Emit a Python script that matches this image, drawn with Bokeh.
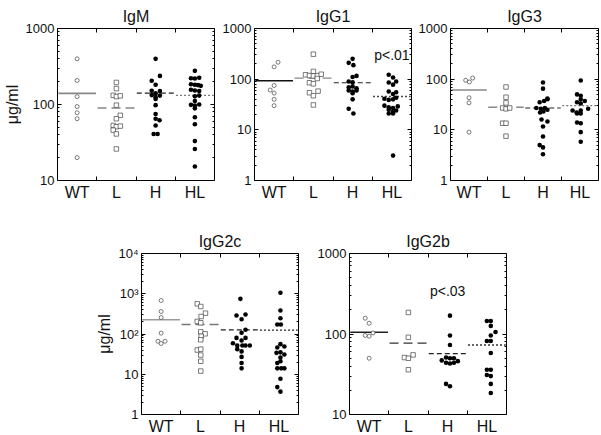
from bokeh.plotting import figure
from bokeh.layouts import row, column, Spacer
from bokeh.models import FixedTicker, LogAxis, LinearAxis, Range1d, CustomJSTickFormatter
from bokeh.core.properties import value
from bokeh.embed import file_html
from bokeh.resources import INLINE

FONT = "Liberation Sans"
groups = ["WT", "L", "H", "HL"]

# ---------------- data (µg/ml) ----------------
igm_wt = [399, 207, 127, 94, 78, 65, 20]
igm_wt_dx = [0, 0, 0, 0, 0, 0, 0]
igm_l = [195, 162, 132, 127, 130, 98, 72, 65, 53, 51, 52, 46, 41, 26]
igm_l_dx = [0, 0, -0.08, 0, 0.1, 0, 0.1, 0, -0.08, 0, 0.1, -0.08, 0, 0]
igm_h = [399, 238, 205, 182, 152, 150, 140, 133, 131, 125, 118, 98, 75, 65, 62, 53, 41, 41]
igm_h_dx = [0, 0.11, -0.1, 0, -0.1, 0.11, 0, -0.1, 0.11, 0, 0, 0, 0, 0, 0.1, 0, -0.05, 0.05]
igm_hl = [277, 222, 220, 225, 185, 182, 180, 176, 156, 153, 150, 128, 131, 111, 99, 97, 100, 89, 68, 55, 33, 26, 15.3]
igm_hl_dx = [0, -0.1, 0, 0.11, -0.1, 0, 0.08, 0.15, -0.1, 0, 0.11, 0, 0.11, 0, -0.1, 0, 0.11, 0, 0, 0, 0, 0, 0]
igm_means = [140, 90, 141, 132]

igg1_wt = [216, 175, 75, 61, 53, 40, 30]
igg1_wt_dx = [0.1, 0, 0, -0.1, 0, 0, 0]
igg1_l = [311, 142, 122, 118, 116, 117, 125, 103, 85, 81, 58, 54, 47, 31]
igg1_l_dx = [0, 0, -0.2, -0.1, 0, 0.1, 0.2, 0.1, -0.1, 0, 0.12, -0.1, 0, 0]
igg1_h = [252, 210, 189, 116, 110, 90, 87, 69, 72, 66, 60, 57, 60, 53, 40, 26, 21]
igg1_h_dx = [0, -0.1, 0.02, 0.1, 0, -0.1, 0, -0.1, 0, 0.1, -0.1, 0, 0.1, 0, 0, -0.1, 0.02]
igg1_hl = [122, 108, 86, 90, 78, 57, 55, 51, 41, 39, 40, 43, 30, 28, 27, 29, 25, 23, 24, 21, 21, 3.1]
igg1_hl_dx = [-0.08, 0.03, -0.08, 0.11, 0.03, -0.08, 0.11, 0.03, -0.19, -0.08, 0.03, 0.11,
              -0.19, -0.08, 0.03, 0.15, -0.08, 0.03, 0.11, -0.08, 0.03, 0.03]
igg1_means = [93, 105, 85, 45.5]

igg3_wt = [95, 88, 105, 43, 34, 9.0]
igg3_wt_dx = [-0.09, 0.01, 0.1, 0, 0, 0]
igg3_l = [70, 44, 34, 27, 26, 27, 13.5, 13.5, 7.5]
igg3_l_dx = [0, 0, 0, -0.09, 0, 0.1, -0.09, 0, 0]
igg3_h = [86, 65, 41.5, 35, 37, 40, 27, 26, 27, 25, 22, 23, 14.6, 16, 11.6, 7.4, 5, 4.5, 3.3]
igg3_h_dx = [0, 0, 0.12, -0.09, 0.03, 0.12, -0.18, -0.06, 0.05, 0.12, -0.08, 0.01, 0.12, -0.04, 0, 0, -0.09, 0, 0]
igg3_hl = [94, 50, 47, 40, 35, 33, 37, 24, 22, 24, 26, 21, 21, 14, 13.5, 9, 5.8]
igg3_hl_dx = [0.02, -0.08, 0.02, 0.02, -0.08, 0.02, 0.13, -0.2, -0.09, 0.02, 0.22, -0.08, 0.02, -0.08, 0.02, 0.02, 0.02]
igg3_means = [61, 28, 27, 30]

igg2c_wt = [680, 362, 257, 105, 66, 58, 66]
igg2c_wt_dx = [0, 0, 0, 0, -0.08, 0, 0.1]
igg2c_l = [562, 482, 329, 272, 205, 190, 113, 101, 88, 72, 40, 42, 30, 21, 12]
igg2c_l_dx = [-0.08, 0.01, 0.13, 0.02, -0.08, 0.01, 0.01, 0.12, 0.02, 0.01, -0.08, 0.01, 0.01, 0.01, 0.01]
igg2c_h = [748, 305, 288, 233, 127, 107, 80, 80, 69, 59, 52, 52, 52, 52, 42, 37, 27, 19, 14]
igg2c_h_dx = [0.02, 0.15, -0.08, 0.05, 0.15, 0.05, -0.08, 0.15, 0.05, -0.17, -0.06, 0.07, 0.15, 0.26,
              -0.06, 0.05, 0.05, 0.05, 0.05]
igg2c_hl = [1055, 384, 247, 172, 172, 56, 49, 46, 34, 35, 31, 26, 19, 21, 14, 14, 14, 7.7, 4.8, 3.7]
igg2c_hl_dx = [0.04, 0.04, 0.04, -0.04, 0.05, 0.04, 0.14, -0.04, -0.06, 0.04, 0.14, 0.04, -0.04, 0.04,
               -0.04, 0.06, 0.14, 0.04, -0.04, 0.04]
igg2c_means = [225, 172, 127, 125]

igg2b_wt = [157, 136, 96, 94, 103, 50]
igg2b_wt_dx = [-0.1, 0, -0.1, 0, 0.1, 0]
igg2b_l = [185, 91, 51, 50, 55, 36]
igg2b_l_dx = [0, 0, -0.1, 0, 0.12, 0]
igg2b_h = [169, 96, 73, 51, 50, 50, 47, 44, 43, 44, 46, 24, 22.4]
igg2b_h_dx = [0.06, 0.06, 0.06, -0.04, 0.06, 0.16, -0.15, -0.04, 0.06, 0.16, 0.26, -0.04, 0.06]
igg2b_hl = [145, 145, 126, 106, 96, 82, 82, 58, 36, 36, 31, 30, 24, 18.5]
igg2b_hl_dx = [0, 0.1, 0.1, 0.22, 0.1, 0, 0.1, 0.1, 0, 0.1, 0, 0.1, 0.1, 0.1]
igg2b_means = [105, 77, 57, 73]

# y-axis tick labels
ticks_10_1000 = {10: "10", 100: "100", 1000: "1000"}
ticks_1_1000 = {1: "1", 10: "10", 100: "100", 1000: "1000"}
ticks_1_1e4 = {1: "1", 10: "10", 100: "10²", 1000: "10³", 10000: "10⁴"}

# p-value notes: (text, group, y)
igg1_note = ("p<.01", "HL", 300)
igg2b_note = ("p<.03", "H", 340)

# ---------------- styles ----------------
mean_styles = {
    "WT": dict(line_dash="solid", line_width=1.6),
    "L": dict(line_dash="9 5", line_width=1.4),
    "H": dict(line_dash="5 3", line_width=1.2),
    "HL": dict(line_dash="2 2", line_width=1.3),
}


def make_panel(name, series, means, ylabels, fw, fh, bl, br, bt, bb,
               ylabel=None, line_colors=("#888", "#888", "#222", "#777"), note=None):
    yt = sorted(ylabels.keys())
    minors = [m * k for m in yt[:-1] for k in range(2, 10)]
    p = figure(frame_width=fw, frame_height=fh, x_range=Range1d(0.5, 4.5),
               y_range=Range1d(yt[0], yt[-1]), y_axis_type="log",
               output_backend="svg", toolbar_location=None,
               min_border_left=bl, min_border_right=br, min_border_top=bt, min_border_bottom=bb,
               title=name, background_fill_color="white", border_fill_color="white")
    p.grid.visible = False
    p.outline_line_color = "black"
    p.outline_line_width = 1
    p.outline_line_alpha = 1
    p.title.align = "center"
    p.title.text_font = FONT
    p.title.text_font_size = "16px"
    p.title.text_font_style = "normal"
    p.title.text_color = "#111"
    p.title.standoff = 8

    xt = FixedTicker(ticks=[1, 2, 3, 4], minor_ticks=[1.5, 2.5, 3.5])
    xa = p.xaxis[0]
    xa.ticker = xt
    xa.major_label_overrides = {i + 1: g for i, g in enumerate(groups)}
    xa.major_tick_in = 0
    xa.major_tick_out = 0
    xa.minor_tick_in = 4
    xa.minor_tick_out = 0
    xa.minor_tick_line_color = "black"
    xa.axis_line_color = None
    xa.major_label_text_font = FONT
    xa.major_label_text_font_size = "16px"
    xa.major_label_text_color = "#111"
    xa.major_label_standoff = 3

    ya = p.yaxis[0]
    ya.ticker = FixedTicker(ticks=yt, minor_ticks=minors)
    ya.major_label_overrides = ylabels
    ya.major_tick_in = 4
    ya.major_tick_out = 0
    ya.minor_tick_in = 2
    ya.minor_tick_out = 0
    ya.axis_line_color = None
    ya.major_label_text_font = FONT
    ya.major_label_text_font_size = "13px"
    ya.major_label_text_color = "#111"
    ya.major_label_standoff = 3
    if ylabel:
        ya.axis_label = ylabel
        ya.axis_label_text_font = FONT
        ya.axis_label_text_font_size = "16px"
        ya.axis_label_text_font_style = "normal"
        ya.axis_label_text_color = "#111"
        ya.axis_label_standoff = 2

    blank = CustomJSTickFormatter(code="return ''")
    ra = LogAxis(ticker=FixedTicker(ticks=yt, minor_ticks=minors), formatter=blank,
                 major_tick_in=4, major_tick_out=0, minor_tick_in=2, minor_tick_out=0,
                 axis_line_color=None, major_label_standoff=0, major_label_text_font_size="0px")
    p.add_layout(ra, "right")
    ta = LinearAxis(ticker=FixedTicker(ticks=[1, 2, 3, 4], minor_ticks=[1.5, 2.5, 3.5]), formatter=blank,
                    major_tick_in=0, major_tick_out=0, minor_tick_in=4, minor_tick_out=0,
                    axis_line_color=None, major_label_standoff=0, major_label_text_font_size="0px")
    p.add_layout(ta, "above")

    # mean lines
    for i, g in enumerate(groups):
        p.segment(x0=[i + 1 - 0.48], x1=[i + 1 + 0.48], y0=[means[i]], y1=[means[i]],
                  line_color=line_colors[i], **mean_styles[g])

    # points
    (wt, wtdx), (l, ldx), (h, hdx), (hl, hldx) = series
    p.scatter(x=[1 + d for d in wtdx], y=wt, marker="circle", size=4,
              fill_color="white", line_color="#444", line_width=0.7)
    p.scatter(x=[2 + d for d in ldx], y=l, marker="square", size=4.5,
              fill_color="white", line_color="#444", line_width=0.7)
    p.scatter(x=[3 + d for d in hdx], y=h, marker="circle", size=4.6,
              fill_color="black", line_color=None)
    p.scatter(x=[4 + d for d in hldx], y=hl, marker="circle", size=4.6,
              fill_color="black", line_color=None)

    if note:
        txt, g, yv = note
        p.text(x=[groups.index(g) + 1], y=[yv], text=[txt], text_font=value(FONT),
               text_font_size="14px", text_align="center", text_baseline="middle",
               text_color="#111")
    return p


f1 = make_panel("IgM", [(igm_wt, igm_wt_dx), (igm_l, igm_l_dx), (igm_h, igm_h_dx), (igm_hl, igm_hl_dx)],
                igm_means, ticks_10_1000, 157, 152, 56, 2, 28, 23, ylabel="μg/ml")
f2 = make_panel("IgG1", [(igg1_wt, igg1_wt_dx), (igg1_l, igg1_l_dx), (igg1_h, igg1_h_dx), (igg1_hl, igg1_hl_dx)],
                igg1_means, ticks_1_1000, 157, 152, 38, 2, 28, 23,
                line_colors=("#111", "#888", "#222", "#444"), note=igg1_note)
f3 = make_panel("IgG3", [(igg3_wt, igg3_wt_dx), (igg3_l, igg3_l_dx), (igg3_h, igg3_h_dx), (igg3_hl, igg3_hl_dx)],
                igg3_means, ticks_1_1000, 148, 152, 37, 3, 28, 23)
f4 = make_panel("IgG2c", [(igg2c_wt, igg2c_wt_dx), (igg2c_l, igg2c_l_dx), (igg2c_h, igg2c_h_dx), (igg2c_hl, igg2c_hl_dx)],
                igg2c_means, ticks_1_1e4, 157, 161, 50, 3, 50, 21, ylabel="μg/ml",
                line_colors=("#999", "#777", "#222", "#222"))
f5 = make_panel("IgG2b", [(igg2b_wt, igg2b_wt_dx), (igg2b_l, igg2b_l_dx), (igg2b_h, igg2b_h_dx), (igg2b_hl, igg2b_hl_dx)],
                igg2b_means, ticks_10_1000, 157, 161, 40, 3, 50, 21,
                line_colors=("#222", "#333", "#222", "#333"), note=igg2b_note)

layout = column(row(f1, f2, f3), row(Spacer(width=91, height=10), f4, Spacer(width=8, height=10), f5))

with open("out.html", "w") as fh:
    fh.write(file_html(layout, INLINE))
